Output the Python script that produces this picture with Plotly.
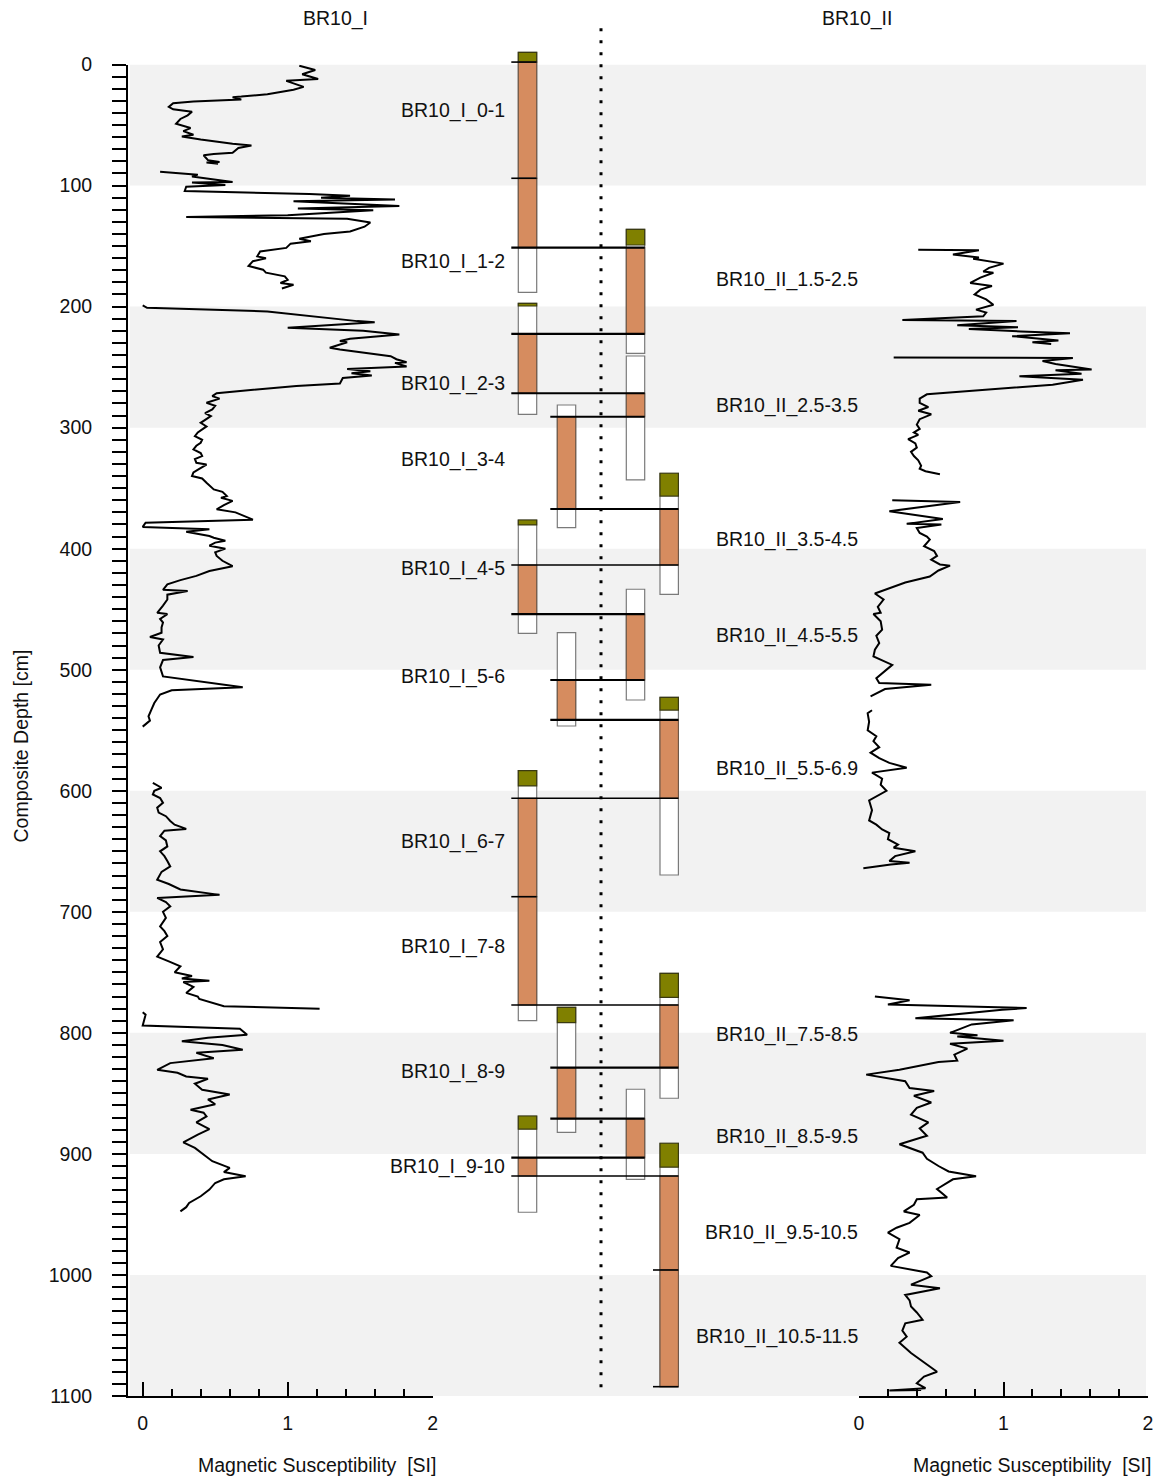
import plotly.graph_objects as go

FONT = "Liberation Sans, Arial, sans-serif"
TXT = 19.5
INK = "#111111"

# ---------------- figure geometry ----------------
FIG_W, FIG_H = 1164, 1479
M_TOP, M_BOT = 20, 83
PLOT_H = FIG_H - M_TOP - M_BOT            # pixel height of the paper area
DEPTH_MAX = 1100
DEPTH_AXIS_PX = 1331.5                    # pixel length of the 0-1100 cm depth axis
PX_PER_CM = DEPTH_AXIS_PX / DEPTH_MAX
CORE_TOP = DEPTH_MAX - PLOT_H / PX_PER_CM  # depth at the very top of the paper


def px_x(px):
    return px / FIG_W


def px_y(py):
    return (FIG_H - M_BOT - py) / PLOT_H


# ---------------- background depth bands ----------------
BAND_TOP = [0, 200, 400, 600, 800, 1000]
BAND_BOT = [100, 300, 500, 700, 900, 1100]

# ---------------- magnetic susceptibility, BR10_I (depth cm, SI) ----------------
MS_I_SEGMENTS = [
    [(1, 1.08), (4.5, 1.19), (8, 1.10), (12, 1.21), (13.5, 0.99), (18.5, 1.11), (20.8, 1.04),
     (22, 0.99), (24.5, 0.86), (26.5, 0.68), (27, 0.62), (29, 0.68), (30.5, 0.35), (32, 0.21),
     (35, 0.18), (37, 0.21), (39, 0.34), (42, 0.31), (45, 0.26), (49, 0.23), (52.5, 0.33),
     (55, 0.28), (58, 0.35), (59.5, 0.27), (62, 0.40), (65.5, 0.62), (67, 0.75), (69, 0.66),
     (73, 0.62), (74, 0.49), (75, 0.42), (79, 0.45), (80.5, 0.53), (81, 0.44), (82, 0.52)],
    [(88.5, 0.12), (90, 0.27), (91, 0.38), (92.5, 0.34), (95, 0.49), (97, 0.62), (97.5, 0.34),
     (99.5, 0.57), (101, 0.30), (104.5, 0.29), (107, 1.15), (108.5, 1.43), (110, 1.23),
     (111.5, 1.74), (113, 1.04), (117, 1.77), (119, 1.07), (120.5, 1.59), (124.5, 1.00),
     (126, 0.30), (127.5, 1.41), (130.5, 1.57), (134, 1.53), (138, 1.43), (140, 1.25),
     (144, 1.08), (146, 1.16), (148, 1.02), (151.5, 0.99), (154.5, 0.81), (158.5, 0.79),
     (160, 0.85), (162.5, 0.76), (166.5, 0.73), (169.5, 0.83), (172, 0.85), (175, 0.98),
     (178, 1.00), (180.5, 0.95), (182, 1.04), (185, 0.96)],
    [(199, 0.0), (201, 0.03), (204, 0.86), (206.5, 1.04), (212, 1.48), (213, 1.60), (217.5, 1.00),
     (220, 1.52), (223, 1.77), (226.5, 1.43), (228.5, 1.36), (229.5, 1.41), (234, 1.29),
     (235.5, 1.36), (238, 1.52), (241, 1.71), (243.5, 1.75), (246, 1.82), (246.5, 1.74),
     (249.5, 1.82), (251.5, 1.41), (253.5, 1.57), (255, 1.44), (257, 1.58), (259, 1.38),
     (263.5, 1.36), (265.5, 1.06), (271.5, 0.51), (274, 0.48), (276, 0.53), (279.5, 0.44),
     (282, 0.50), (285, 0.48), (288, 0.43), (290.5, 0.47), (296, 0.40), (299, 0.44),
     (301.5, 0.41), (304, 0.38), (307, 0.36), (310, 0.41), (312.5, 0.40), (315, 0.37),
     (318, 0.35), (321, 0.40), (323.5, 0.41), (326, 0.36), (329, 0.37), (330.5, 0.44),
     (334, 0.39), (337, 0.35), (340, 0.34), (342, 0.41), (345.5, 0.44), (348, 0.46),
     (351, 0.49), (353, 0.55), (356.5, 0.58), (358, 0.54), (360.5, 0.62), (364, 0.56),
     (367.5, 0.51), (370, 0.64), (373, 0.70), (376, 0.76), (378.5, 0.02), (382, 0.0),
     (384, 0.46), (386, 0.30), (389.5, 0.46), (391, 0.49), (393.5, 0.57), (395, 0.50),
     (397.5, 0.46), (400, 0.57), (403, 0.50), (406, 0.51), (410, 0.55), (414.5, 0.62),
     (418.5, 0.46), (422.5, 0.37), (426, 0.26), (429.5, 0.17), (434, 0.14), (435, 0.31),
     (438, 0.17), (442, 0.17), (447, 0.14), (453, 0.10), (454, 0.17), (458, 0.12),
     (461, 0.14), (465, 0.13), (469.5, 0.13), (473, 0.05), (475, 0.14), (480, 0.11),
     (486, 0.12), (489.5, 0.35), (492, 0.14), (498, 0.12), (505.5, 0.14), (514.5, 0.69),
     (517, 0.20), (520.5, 0.12), (524, 0.10), (527.5, 0.08), (533, 0.06), (538.5, 0.04),
     (542, 0.05), (547, 0.0)],
    [(593.5, 0.07), (597.5, 0.13), (600, 0.08), (603, 0.07), (606, 0.12), (610, 0.14),
     (614, 0.10), (618, 0.11), (621, 0.16), (625, 0.19), (628, 0.22), (631.5, 0.30),
     (633, 0.15), (637.5, 0.12), (641, 0.16), (646, 0.17), (650, 0.12), (654, 0.15),
     (658, 0.17), (662.5, 0.19), (667, 0.13), (673.5, 0.10), (677, 0.18), (681.5, 0.26),
     (686, 0.53), (688.5, 0.10), (692, 0.16), (695.5, 0.19), (700, 0.14), (705, 0.16),
     (712, 0.12), (716, 0.15), (720, 0.17), (725, 0.12), (731, 0.14), (737, 0.10),
     (741, 0.18), (745, 0.26), (750, 0.22), (753, 0.34), (755, 0.27), (757, 0.46),
     (758, 0.28), (762, 0.35), (767, 0.30), (770, 0.38), (772, 0.39), (775, 0.48),
     (778, 0.56), (780, 1.22)],
    [(783, 0.0), (785, 0.02), (794, 0.0), (796.5, 0.67), (801.5, 0.72), (804, 0.45),
     (807, 0.27), (810, 0.55), (814, 0.69), (816.5, 0.37), (821, 0.49), (825, 0.19),
     (830.5, 0.10), (833, 0.24), (836, 0.30), (838, 0.45), (842, 0.36), (847, 0.41),
     (851, 0.60), (855, 0.45), (859, 0.50), (863.5, 0.33), (866, 0.42), (869, 0.44),
     (874, 0.37), (879.5, 0.46), (884, 0.38), (890.5, 0.28), (895, 0.36), (902, 0.44),
     (906, 0.48), (911.5, 0.60), (915, 0.56), (918.5, 0.71), (921, 0.56), (924, 0.50),
     (929.5, 0.46), (935, 0.40), (940.5, 0.32), (944, 0.30), (947.5, 0.26)],
]

# ---------------- magnetic susceptibility, BR10_II (depth cm, SI) ----------------
MS_II_SEGMENTS = [
    [(153, 0.41), (153.5, 0.83), (157, 0.65), (159.5, 0.83), (160.5, 0.79), (164.5, 1.00),
     (168, 0.90), (171, 0.86), (172, 0.93), (176, 0.84), (180.5, 0.77), (183, 0.92),
     (186, 0.84), (190, 0.80), (194, 0.88), (198.5, 0.93), (202.5, 0.81), (205, 0.88),
     (208, 0.86), (211, 0.30), (212, 1.09), (215.5, 0.68), (217, 1.10), (218.5, 0.76),
     (220.5, 1.12), (222, 1.46), (224.5, 1.06), (226, 1.22), (228, 1.38), (229.5, 1.20),
     (231, 1.33)],
    [(242, 0.24), (242.5, 1.48), (245, 1.27), (247.5, 1.36), (252, 1.61), (252.5, 1.36),
     (255.5, 1.54), (257.5, 1.11), (260.5, 1.55), (264.5, 1.34), (272.5, 0.47), (276, 0.42),
     (279.5, 0.42), (283, 0.48), (286, 0.41), (289, 0.50), (293, 0.42), (297.5, 0.40),
     (301, 0.42), (304, 0.38), (306, 0.41), (309.5, 0.34), (313, 0.39), (316.5, 0.40),
     (320, 0.36), (323.5, 0.38), (327, 0.41), (331.5, 0.43), (334, 0.42), (336, 0.46),
     (338.5, 0.56)],
    [(360, 0.23), (361.5, 0.70), (369, 0.21), (372, 0.38), (375.5, 0.58), (379.5, 0.33),
     (380, 0.57), (383, 0.40), (387, 0.42), (390, 0.47), (392.5, 0.49), (398, 0.45),
     (402, 0.52), (406, 0.54), (409, 0.50), (413, 0.56), (414, 0.63), (418, 0.55),
     (423, 0.49), (428, 0.32), (433.5, 0.19), (437, 0.11), (442, 0.17), (448, 0.13),
     (453, 0.15), (454, 0.10), (460, 0.15), (467, 0.16), (472, 0.12), (478, 0.14),
     (483.5, 0.11), (489, 0.10), (496, 0.23), (502, 0.17), (507, 0.12), (511, 0.14),
     (512.5, 0.50), (516, 0.18), (522, 0.08)],
    [(533.5, 0.09), (536, 0.06), (543, 0.07), (550, 0.06), (555, 0.12), (559, 0.10),
     (564, 0.14), (568.5, 0.08), (573, 0.14), (577, 0.21), (581, 0.33), (585, 0.09),
     (590, 0.16), (595, 0.15), (600, 0.19), (608, 0.07), (616, 0.09), (624.5, 0.07),
     (628, 0.12), (632, 0.16), (635, 0.21), (640, 0.20), (644.5, 0.27), (647, 0.24),
     (650, 0.39), (654, 0.25), (658, 0.21), (659.5, 0.35), (661, 0.22), (664, 0.03)],
    [(770, 0.11), (773, 0.35), (776.5, 0.20), (779.5, 1.16), (781, 0.99), (788, 0.39),
     (789.5, 1.07), (793, 0.78), (800, 0.63), (802, 0.82), (803, 0.68), (806.5, 1.00),
     (809, 0.63), (813, 0.75), (818, 0.66), (823, 0.68), (824, 0.55), (830.5, 0.28),
     (834.5, 0.05), (840, 0.32), (845.5, 0.35), (848, 0.52), (852, 0.38), (857.5, 0.50),
     (862, 0.40), (867.5, 0.36), (874, 0.48), (879, 0.42), (885, 0.47), (892, 0.28),
     (899, 0.44), (904, 0.47), (910, 0.55), (914.5, 0.62), (918.5, 0.81), (921, 0.65),
     (929, 0.54), (936, 0.61), (937.5, 0.40), (942, 0.38), (947.5, 0.31), (950.5, 0.42),
     (957, 0.35), (961, 0.26), (965, 0.20), (970.5, 0.28), (977.5, 0.26), (981.5, 0.35),
     (986, 0.27), (992.5, 0.22), (998, 0.47), (1001, 0.50), (1004, 0.44), (1008, 0.36),
     (1011, 0.56), (1016.5, 0.32), (1021, 0.35), (1026, 0.36), (1031, 0.40), (1037, 0.44),
     (1040, 0.32), (1046, 0.30), (1051, 0.33), (1056, 0.28), (1064.5, 0.36), (1072, 0.45),
     (1080, 0.54), (1084, 0.45), (1089.5, 0.40), (1093.5, 0.46), (1095.5, 0.21),
     (1095, 0.43)],
]

# ---------------- core sections (depths in cm) ----------------
# lane 0/1 = BR10_I, lane 2/3 = BR10_II
SEC_LANE = [0, 0, 0, 0, 0, 0, 0, 1, 1, 1, 2, 2, 2, 2, 3, 3, 3, 3, 3]
SEC_TOP = [-10, 94, 197.3, 376.3, 583.4, 687.5, 868.7, 281.3, 469.4, 778.9,
           136.2, 240.8, 433.5, 846.6, 337.7, 522.8, 750.8, 891.2, 995.9]
SEC_BOT = [94, 188.2, 289, 469.9, 687.5, 789.9, 948.2, 382.6, 546.5, 882.2,
           238.6, 343.2, 525, 921, 437.7, 669.6, 854, 995.9, 1092.3]
CAP_BOT = [-2, None, 199.5, 380.4, 596, None, 879.6, None, None, 791.6,
           149.1, None, None, None, 356.5, 533.3, 770.6, 911, None]
ORG_TOP = [-2, 94, 222.6, 413.5, 606.2, 687.5, 903.1, 291, 508.5, 828.8,
           151.3, 271.6, 454, 870.9, 367.2, 541.5, 777, 918.2, 995.9]
ORG_BOT = [94, 151.3, 271.6, 454, 687.5, 777, 918.2, 367.2, 541.5, 870.9,
           222.6, 291, 508.5, 903.1, 413.5, 606.2, 828.8, 995.9, 1092.3]

# section boundaries marked with a short tick
MARK_LANE = [0, 0, 0, 3, 3]
MARK_DEPTH = [-2, 94, 687.5, 995.9, 1092.3]

# correlation tie lines between lanes
TIE_DEPTH = [151.3, 222.6, 271.6, 291, 367.2, 413.5, 454, 508.5, 541.5,
             606.2, 777, 828.8, 870.9, 903.1, 918.2]
TIE_FROM = [0, 0, 0, 1, 1, 0, 0, 1, 1, 0, 0, 1, 1, 0, 0]
TIE_TO = [2, 2, 2, 2, 3, 3, 2, 2, 3, 3, 3, 3, 2, 2, 3]

# section labels
LABEL_I_TEXT = ["BR10_I_0-1", "BR10_I_1-2", "BR10_I_2-3", "BR10_I_3-4", "BR10_I_4-5",
                "BR10_I_5-6", "BR10_I_6-7", "BR10_I_7-8", "BR10_I_8-9", "BR10_I_9-10"]
LABEL_I_DEPTH = [37.7, 163, 263.4, 326.7, 416.2, 505.7, 642, 728.8, 832, 910.5]
LABEL_II_TEXT = ["BR10_II_1.5-2.5", "BR10_II_2.5-3.5", "BR10_II_3.5-4.5", "BR10_II_4.5-5.5",
                 "BR10_II_5.5-6.9", "BR10_II_7.5-8.5", "BR10_II_8.5-9.5", "BR10_II_9.5-10.5",
                 "BR10_II_10.5-11.5"]
LABEL_II_DEPTH = [178, 281.3, 392, 472, 582, 801, 886, 965, 1051]

# ---------------- styling ----------------
LANE_X = [2.375, 4.325, 7.775, 9.46]   # lane centres on the middle axis
COL_W = 0.92
OVERHANG = 0.35
DIVIDER_X = 6.05
ORANGE = "#D68C5F"
OLIVE = "#808000"
BAND = "#F2F2F2"


def flatten(segments):
    ds, vs = [], []
    for seg in segments:
        for d, v in seg:
            ds.append(d)
            vs.append(v)
        ds.append(None)
        vs.append(None)
    return ds, vs


fig = go.Figure()

d1, v1 = flatten(MS_I_SEGMENTS)
d2, v2 = flatten(MS_II_SEGMENTS)
fig.add_trace(go.Scatter(x=v1, y=d1, mode="lines", xaxis="x", yaxis="y",
                         line=dict(color="black", width=2), connectgaps=False,
                         showlegend=False, hoverinfo="skip"))
fig.add_trace(go.Scatter(x=v2, y=d2, mode="lines", xaxis="x2", yaxis="y",
                         line=dict(color="black", width=2), connectgaps=False,
                         showlegend=False, hoverinfo="skip"))

shapes = []
for top, bot in zip(BAND_TOP, BAND_BOT):
    shapes.append(dict(type="rect", xref="paper", yref="y", x0=px_x(130), x1=px_x(1146),
                       y0=top, y1=bot, fillcolor=BAND, line=dict(width=0), layer="below"))

shapes.append(dict(type="line", xref="x3", yref="y2", x0=DIVIDER_X, x1=DIVIDER_X,
                   y0=-30, y1=1103, line=dict(color="black", width=3, dash="3px,9px"),
                   layer="below"))

for i, lane in enumerate(SEC_LANE):
    cx = LANE_X[lane]
    x0, x1 = cx - COL_W / 2, cx + COL_W / 2
    shapes.append(dict(type="rect", xref="x3", yref="y2", x0=x0, x1=x1,
                       y0=SEC_TOP[i], y1=SEC_BOT[i], fillcolor="white",
                       line=dict(color="#7a7a7a", width=1.2)))
    if CAP_BOT[i] is not None:
        shapes.append(dict(type="rect", xref="x3", yref="y2", x0=x0, x1=x1,
                           y0=SEC_TOP[i], y1=CAP_BOT[i], fillcolor=OLIVE,
                           line=dict(color="#3a3a10", width=1.2)))
    if ORG_BOT[i] > ORG_TOP[i]:
        shapes.append(dict(type="rect", xref="x3", yref="y2", x0=x0, x1=x1,
                           y0=ORG_TOP[i], y1=ORG_BOT[i], fillcolor=ORANGE,
                           line=dict(color="#6d5646", width=1.1)))

for lane, d in zip(MARK_LANE, MARK_DEPTH):
    cx = LANE_X[lane]
    shapes.append(dict(type="line", xref="x3", yref="y2",
                       x0=cx - COL_W / 2 - OVERHANG, x1=cx + COL_W / 2, y0=d, y1=d,
                       line=dict(color="black", width=1.6)))

for d, a, b in zip(TIE_DEPTH, TIE_FROM, TIE_TO):
    w = 1.5 if (a == 0 and b == 3) else 2.2
    shapes.append(dict(type="line", xref="x3", yref="y2",
                       x0=LANE_X[a] - COL_W / 2 - OVERHANG, x1=LANE_X[b] + COL_W / 2,
                       y0=d, y1=d, line=dict(color="black", width=w)))

annotations = []
for t, d in zip(LABEL_I_TEXT, LABEL_I_DEPTH):
    annotations.append(dict(text=t, xref="paper", yref="y", x=px_x(507), y=d,
                            xanchor="right", yanchor="middle", showarrow=False,
                            font=dict(family=FONT, size=TXT, color=INK)))
for t, d in zip(LABEL_II_TEXT, LABEL_II_DEPTH):
    annotations.append(dict(text=t, xref="paper", yref="y", x=px_x(859.5), y=d,
                            xanchor="right", yanchor="middle", showarrow=False,
                            font=dict(family=FONT, size=TXT, color=INK)))

for t, x in (("BR10_I", 335), ("BR10_II", 857)):
    annotations.append(dict(text=t, xref="paper", yref="paper", x=px_x(x), y=px_y(18),
                            xanchor="center", yanchor="middle", showarrow=False,
                            font=dict(family=FONT, size=TXT, color=INK)))
for x in (316.5, 1031.5):
    annotations.append(dict(text="Magnetic Susceptibility\u00a0 [SI]", xref="paper",
                            yref="paper", x=px_x(x), y=px_y(1465), xanchor="center",
                            yanchor="middle", showarrow=False,
                            font=dict(family=FONT, size=TXT, color=INK)))
annotations.append(dict(text="Composite Depth [cm]", xref="paper", yref="paper",
                        x=px_x(20), y=px_y(746.5), textangle=-90, xanchor="center",
                        yanchor="middle", showarrow=False,
                        font=dict(family=FONT, size=TXT, color=INK)))

ms_axis = dict(showgrid=False, zeroline=False, showline=True, linecolor="black",
               linewidth=2, ticks="inside", ticklen=14, tickwidth=2, tickcolor="black",
               tick0=0, dtick=1, ticklabelstandoff=9,
               tickfont=dict(family=FONT, size=TXT, color=INK),
               minor=dict(dtick=0.2, ticks="inside", ticklen=7, tickwidth=2,
                          tickcolor="black", showgrid=False),
               fixedrange=True, automargin=False)

fig.update_layout(
    width=FIG_W, height=FIG_H,
    margin=dict(l=0, r=0, t=M_TOP, b=M_BOT),
    paper_bgcolor="white", plot_bgcolor="rgba(0,0,0,0)",
    xaxis=dict(domain=[px_x(128), px_x(433)],
               range=[(128 - 142.7) / 145, (433 - 142.7) / 145], anchor="y", **ms_axis),
    xaxis2=dict(domain=[px_x(859), px_x(1148)], range=[0, 2], anchor="y", **ms_axis),
    yaxis=dict(domain=[0, DEPTH_AXIS_PX / PLOT_H], range=[DEPTH_MAX, 0], anchor="x",
               showgrid=False, zeroline=False, showline=True, linecolor="black",
               linewidth=2, ticks="outside", ticklen=14, tickwidth=2, tickcolor="black",
               tick0=0, dtick=100, ticklabelstandoff=16,
               tickfont=dict(family=FONT, size=TXT, color=INK),
               minor=dict(dtick=10, ticks="outside", ticklen=14, tickwidth=2,
                          tickcolor="black", showgrid=False),
               fixedrange=True, automargin=False),
    xaxis3=dict(domain=[px_x(480), px_x(720)], range=[0, 12], anchor="y2",
                visible=False, fixedrange=True),
    yaxis2=dict(domain=[0, 1], range=[DEPTH_MAX, CORE_TOP], anchor="x3",
                visible=False, fixedrange=True),
    shapes=shapes,
    annotations=annotations,
    showlegend=False,
)

fig.write_html("out.html")
